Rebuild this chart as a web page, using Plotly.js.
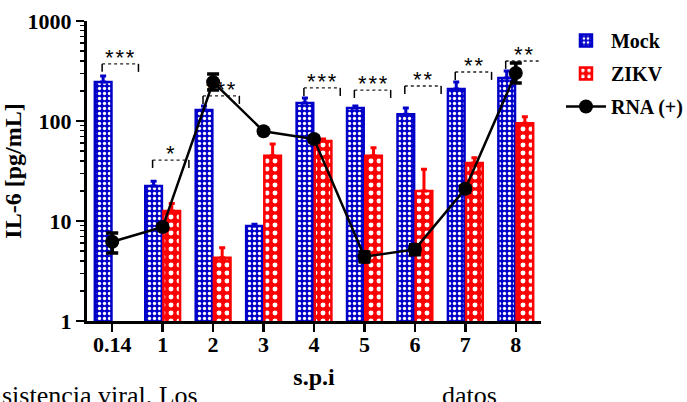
<!DOCTYPE html>
<html>
<head>
<meta charset="utf-8">
<script src="https://cdn.plot.ly/plotly-3.0.1.min.js"></script>
<style>
html,body{margin:0;padding:0;background:#fff;}
#chart{width:687px;height:402px;}
</style>
</head>
<body>
<div id="chart"></div>
<script>
// ---- data ----
const categories = ['0.14', '1', '2', '3', '4', '5', '6', '7', '8'];
const mockValues = [245, 22.4, 129, 8.9, 151, 135, 117, 209, 269];
const mockErr    = [37, 2.6, 12, 0.4, 19, 6, 18, 36, 47];
const zikvValues = [null, 12.6, 4.3, 45, 63, 45, 20, 38, 95];
const zikvErr    = [null, 2.4, 1.1, 14, 3, 9, 13, 5, 15];
const rnaValues  = [6.2, 8.7, 245, 79, 66, 4.4, 5.2, 21, 302];
const rnaErrUp   = [1.4, 0.5, 50, 3, 4, 0.5, 0.6, 1.5, 78];
const rnaErrDown = [1.4, 0.5, 41, 3, 4, 0.5, 0.6, 1.5, 62];
const sigLabels  = ['***', '*', '***', '', '***', '***', '**', '**', '**'];
const sigHeights = [372, 40.7, 178, null, 214, 204, 224, 309, 398];
const yTickVals  = [1, 10, 100, 1000];
const yTickText  = ['1', '10', '100', '1000'];

const BLUE = '#0000c8';
const RED = '#ff0000';
const serif = 'Liberation Serif, Times New Roman, serif';

const xIdx = categories.map((c, i) => i);
const zeros = categories.map(() => 0);

const traces = [];
traces.push({
  type: 'bar', name: 'Mock', legendgroup: 'a', x: xIdx, y: mockValues,
  width: 0.33, offset: -0.345,
  marker: {color: BLUE, line: {color: BLUE, width: 2.5},
    pattern: {shape: '.', fgcolor: '#ffffff', bgcolor: BLUE, fillmode: 'replace', size: 5, solidity: 0.35}},
  error_y: {type: 'data', symmetric: false, array: mockErr, arrayminus: zeros, color: BLUE, thickness: 3, width: 3},
  hoverinfo: 'skip'
});
traces.push({
  type: 'bar', name: 'ZIKV', legendgroup: 'b', x: xIdx, y: zikvValues,
  width: 0.33, offset: 0.015,
  marker: {color: RED, line: {color: RED, width: 2.5},
    pattern: {shape: '.', fgcolor: '#ffffff', bgcolor: RED, fillmode: 'replace', size: 8, solidity: 0.3}},
  error_y: {type: 'data', symmetric: false, array: zikvErr, arrayminus: zeros, color: RED, thickness: 3, width: 3},
  hoverinfo: 'skip'
});

// significance brackets
const topX = [], topY = [], sideX = [], sideY = [];
const annotations = [];
categories.forEach((c, i) => {
  const h = sigHeights[i];
  if (!h || !sigLabels[i]) return;
  const l = i - 0.2, r = i + 0.52, drop = h / 1.2;
  topX.push(l, r, null); topY.push(h, h, null);
  sideX.push(l, l, null, r, r, null); sideY.push(drop, h, null, h, drop, null);
  annotations.push({
    xref: 'x', yref: 'y', x: (l + r) / 2, y: Math.log10(h),
    text: sigLabels[i].split('').join('\u200A'), showarrow: false,
    yanchor: 'bottom', yshift: -8,
    font: {family: 'Liberation Sans, Arial, sans-serif', size: 22, color: '#000'}
  });
});
traces.push({type: 'scatter', mode: 'lines', x: topX, y: topY, showlegend: false, hoverinfo: 'skip',
  line: {color: '#222', width: 1.3, dash: 'dot'}});
traces.push({type: 'scatter', mode: 'lines', x: sideX, y: sideY, showlegend: false, hoverinfo: 'skip',
  line: {color: '#000', width: 1.5}});

traces.push({
  type: 'scatter', mode: 'lines+markers', name: 'RNA (+)', legendgroup: 'c', x: xIdx, y: rnaValues,
  line: {color: '#000', width: 2.5},
  marker: {color: '#000', size: 14, symbol: 'circle'},
  error_y: {type: 'data', symmetric: false, array: rnaErrUp, arrayminus: rnaErrDown, color: '#000', thickness: 3.5, width: 6},
  hoverinfo: 'skip'
});

annotations.push({xref: 'paper', yref: 'paper', x: -0.1916, y: -0.193, xanchor: 'left', yanchor: 'top',
  text: 'sistencia viral. Los', showarrow: false, font: {family: serif, size: 26, color: '#000'}});
annotations.push({xref: 'paper', yref: 'paper', x: 0.7775, y: -0.193, xanchor: 'left', yanchor: 'top',
  text: 'datos', showarrow: false, font: {family: serif, size: 26, color: '#000'}});

const minorVals = [];
for (let d = 1; d <= 100; d *= 10) for (let k = 2; k <= 9; k++) minorVals.push(k * d);

const layout = {
  width: 687, height: 402,
  margin: {l: 87, r: 146, t: 21, b: 81, autoexpand: false},
  paper_bgcolor: '#fff', plot_bgcolor: '#fff',
  font: {family: serif, color: '#000'},
  barmode: 'overlay',
  showlegend: true,
  legend: {x: 1.044, y: 1.0, xanchor: 'left', yanchor: 'top', itemwidth: 40,
    font: {family: serif, size: 20, weight: 'bold', color: '#000'}, tracegroupgap: 4, traceorder: 'grouped'},
  xaxis: {
    range: [-0.5, 8.5], tickmode: 'array', tickvals: xIdx, ticktext: categories,
    showgrid: false, zeroline: false, showline: true, linecolor: '#000', linewidth: 3,
    ticks: 'outside', ticklen: 8, tickwidth: 2.5, tickcolor: '#000', ticklabelstandoff: -6,
    tickfont: {family: serif, size: 22, weight: 'bold', color: '#000'},
    title: {text: 's.p.i', font: {family: serif, size: 24, weight: 'bold', color: '#000'}, standoff: 12}
  },
  yaxis: {
    type: 'log', range: [0, 3], tickmode: 'array', tickvals: yTickVals, ticktext: yTickText,
    showgrid: false, zeroline: false, showline: true, linecolor: '#000', linewidth: 3,
    ticks: 'outside', ticklen: 8, tickwidth: 2.5, tickcolor: '#000',
    minor: {tickmode: 'array', tickvals: minorVals, ticks: 'outside', ticklen: 4, tickwidth: 1.5, tickcolor: '#000', showgrid: false},
    tickfont: {family: serif, size: 22, weight: 'bold', color: '#000'},
    title: {text: 'IL-6 [pg/mL]', font: {family: serif, size: 24, weight: 'bold', color: '#000'}, standoff: 0}
  },
  annotations: annotations
};

Plotly.newPlot('chart', traces, layout, {displayModeBar: false, staticPlot: true});
</script>
</body>
</html>
